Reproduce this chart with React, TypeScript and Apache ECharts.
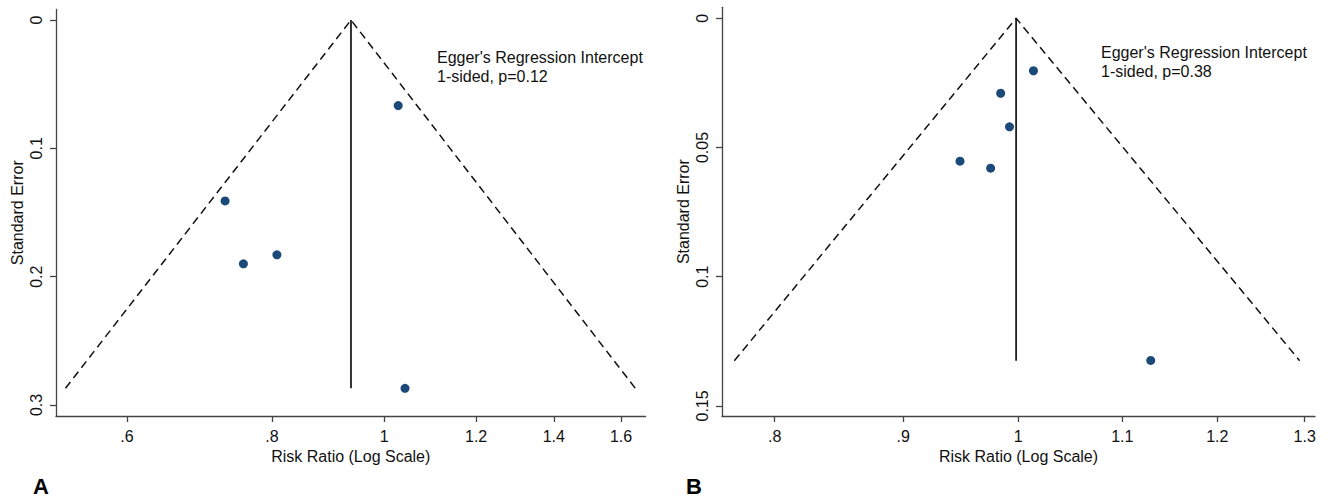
import React, { useEffect, useRef } from "react";
import * as echarts from "echarts";

// Panel A: study risk ratios and standard errors
const rrA = [1.028, 0.729, 0.756, 0.808, 1.042];
const seA = [0.0667, 0.141, 0.19, 0.183, 0.287];
// Panel A: pooled estimate line and pseudo 95% funnel vertices
const pooledA = [0.936, 0.936];
const pooledSeA = [0, 0.287];
const funnelRrA = [0.531, 0.936, 1.646];
const funnelSeA = [0.287, 0, 0.287];

// Panel B
const rrB = [1.014, 0.984, 0.992, 0.948, 0.975, 1.129];
const seB = [0.0203, 0.029, 0.042, 0.0553, 0.058, 0.1324];
const pooledB = [0.998, 0.998];
const pooledSeB = [0, 0.1325];
const funnelRrB = [0.771, 0.998, 1.294];
const funnelSeB = [0.1325, 0, 0.1325];

// Axis ticks
const xTicksA = [0.6, 0.8, 1, 1.2, 1.4, 1.6];
const yTicksA = [0, 0.1, 0.2, 0.3];
const yLabelsA = ["0", "0.1", "0.2", "0.3"];
const xTicksB = [0.8, 0.9, 1, 1.1, 1.2, 1.3];
const yTicksB = [0, 0.05, 0.1, 0.15];
const yLabelsB = ["0", "0.05", "0.1", "0.15"];

const eggerA = ["Egger's Regression Intercept", "1-sided, p=0.12"];
const eggerB = ["Egger's Regression Intercept", "1-sided, p=0.38"];

const FONT = "'Liberation Sans', Arial, Helvetica, sans-serif";
const FS = 16;
const TEXT = "#111111";
const AXIS = "#444444";
const DOT = "#1b4a7a";

const fmtRR = (v: number) => {
  const r = Math.round(Math.exp(v) * 100) / 100;
  const s = String(r);
  return s.startsWith("0.") ? s.slice(1) : s;
};

const pairs = (xs: number[], ys: number[]) => xs.map((x, i) => [Math.log(x), ys[i]]);

function xAxis(grid: number, ticks: number[], min: number, max: number) {
  const lv = ticks.map((t) => Math.log(t));
  return {
    type: "value",
    gridIndex: grid,
    min,
    max,
    name: "Risk Ratio (Log Scale)",
    nameLocation: "middle",
    nameGap: 28,
    nameTextStyle: { fontFamily: FONT, fontSize: FS, color: TEXT },
    axisLine: { show: true, onZero: false, lineStyle: { color: AXIS, width: 1.3 } },
    axisTick: { show: true, length: 6, customValues: lv, lineStyle: { color: AXIS, width: 1.3 } },
    axisLabel: {
      customValues: lv,
      formatter: fmtRR,
      margin: 12,
      fontFamily: FONT,
      fontSize: FS,
      color: TEXT,
    },
    splitLine: { show: false },
  };
}

function yAxis(grid: number, ticks: number[], labels: string[], min: number, max: number) {
  return {
    type: "value",
    gridIndex: grid,
    inverse: true,
    min,
    max,
    name: "Standard Error",
    nameLocation: "middle",
    nameGap: 31,
    nameTextStyle: { fontFamily: FONT, fontSize: FS, color: TEXT },
    axisLine: { show: true, onZero: false, lineStyle: { color: AXIS, width: 1.3 } },
    axisTick: { show: true, length: 6, customValues: ticks, lineStyle: { color: AXIS, width: 1.3 } },
    axisLabel: {
      customValues: ticks,
      rotate: 90,
      margin: 12,
      formatter: (v: number) => {
        const i = ticks.findIndex((t) => Math.abs(t - v) < 1e-9);
        return i >= 0 ? labels[i] : "";
      },
      fontFamily: FONT,
      fontSize: FS,
      color: TEXT,
    },
    splitLine: { show: false },
  };
}

function panelSeries(
  idx: number,
  rr: number[],
  se: number[],
  pooled: number[],
  pooledSe: number[],
  fRr: number[],
  fSe: number[]
) {
  return [
    {
      type: "line",
      xAxisIndex: idx,
      yAxisIndex: idx,
      data: pairs(fRr, fSe),
      symbol: "none",
      lineStyle: { color: "#111", width: 1.5, type: [8, 5] },
      z: 2,
    },
    {
      type: "line",
      xAxisIndex: idx,
      yAxisIndex: idx,
      data: pairs(pooled, pooledSe),
      symbol: "none",
      lineStyle: { color: "#111", width: 1.7 },
      z: 2,
    },
    {
      type: "scatter",
      xAxisIndex: idx,
      yAxisIndex: idx,
      data: pairs(rr, se),
      symbol: "circle",
      symbolSize: 9,
      itemStyle: { color: DOT, opacity: 1 },
      z: 3,
    },
  ];
}

function textLines(x: number, y: number, lines: string[]) {
  return lines.map((t, i) => ({
    type: "text",
    x,
    y: y + i * 19,
    style: {
      text: t,
      fontFamily: FONT,
      fontSize: FS,
      fill: TEXT,
      verticalAlign: "middle",
    },
  }));
}

export default function App() {
  const ref = useRef<HTMLDivElement>(null);
  useEffect(() => {
    if (!ref.current) return;
    const chart = echarts.init(ref.current, undefined, { renderer: "svg" });
    chart.setOption({
      animation: false,
      backgroundColor: "#ffffff",
      grid: [
        { left: 56, top: 9.5, width: 589.5, height: 406.5 },
        { left: 722, top: 7.3, width: 593, height: 408.7 },
      ],
      xAxis: [xAxis(0, xTicksA, -0.6518, 0.5186), xAxis(1, xTicksB, -0.2714, 0.2718)],
      yAxis: [
        yAxis(0, yTicksA, yLabelsA, -0.0082, 0.3086),
        yAxis(1, yTicksB, yLabelsB, -0.00426, 0.1539),
      ],
      series: [
        ...panelSeries(0, rrA, seA, pooledA, pooledSeA, funnelRrA, funnelSeA),
        ...panelSeries(1, rrB, seB, pooledB, pooledSeB, funnelRrB, funnelSeB),
      ],
      graphic: [
        ...textLines(437, 57.5, eggerA),
        ...textLines(1101, 52.5, eggerB),
        {
          type: "text",
          x: 33,
          y: 486,
          style: { text: "A", fontFamily: FONT, fontSize: 22, fontWeight: "bold", fill: "#000", verticalAlign: "middle" },
        },
        {
          type: "text",
          x: 686,
          y: 486,
          style: { text: "B", fontFamily: FONT, fontSize: 22, fontWeight: "bold", fill: "#000", verticalAlign: "middle" },
        },
      ],
    });
    return () => chart.dispose();
  }, []);
  return (
    <div
      ref={ref}
      style={{ position: "fixed", left: 0, top: 0, width: 1334, height: 498, background: "#fff" }}
    />
  );
}
